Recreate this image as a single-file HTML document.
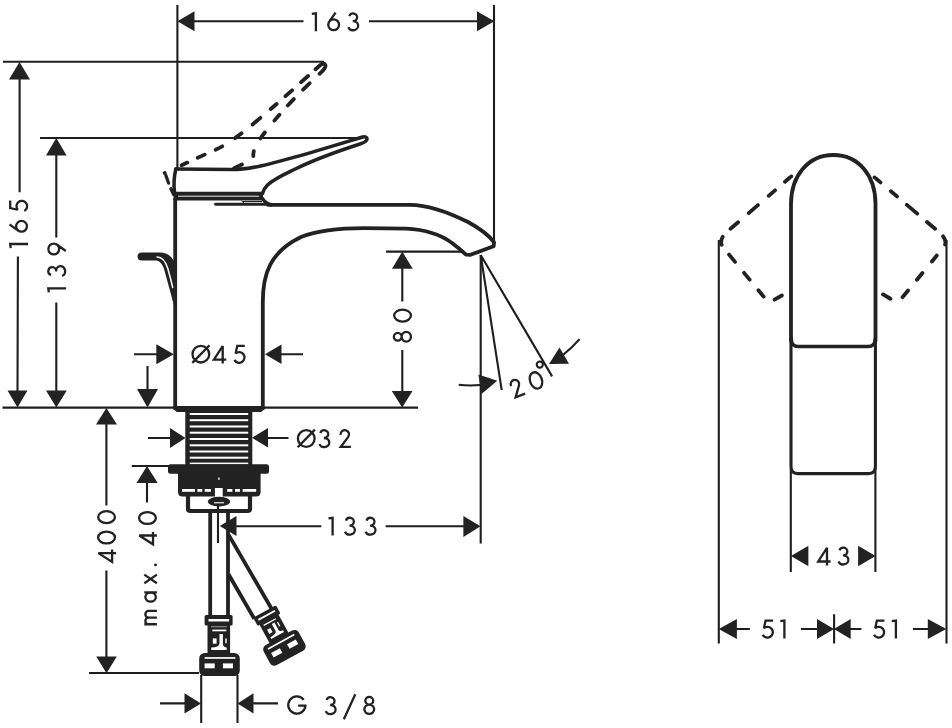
<!DOCTYPE html>
<html><head><meta charset="utf-8"><title>drawing</title>
<style>
html,body{margin:0;padding:0;background:#fff;overflow:hidden;}
svg{display:block;}
.t{stroke:#1e1e1e;stroke-width:2.1;fill:none;}
.h{stroke:#222;stroke-width:3.8;fill:none;stroke-linejoin:round;stroke-linecap:round;}
.m{stroke:#222;stroke-width:3.5;fill:none;stroke-linejoin:round;stroke-linecap:round;}
.d{stroke:#222;stroke-width:3.8;fill:none;stroke-linecap:round;stroke-linejoin:round;stroke-dasharray:9.8 10.7;}
.a{fill:#222;stroke:none;}
.k{fill:#222;stroke:none;}
.w{fill:#fff;stroke:none;}
.x path{stroke:#222;stroke-width:2.3;fill:none;stroke-linejoin:miter;stroke-miterlimit:3;stroke-linecap:butt;}
</style></head><body>
<svg width="952" height="728" viewBox="0 0 952 728">
<rect width="952" height="728" fill="#fff"/>

<!-- thin dimension lines -->
<g class="t">
<path d="M177.4 5V168M494 5V241M194 21.3H303.5M369 21.3H477.5"/>
<path d="M3 61.8H324M19.6 79L19.6 192.3M17.9 256.5L17.5 391"/>
<path d="M40 138H363M56.3 155V237.6M56.3 302.5V391"/>
<path d="M2.5 407.6H175M264 407.6H418"/>
<path d="M134 354.2H157M281 354.2H303"/>
<path d="M147.5 366V389.5"/>
<path d="M148 438H171M267 438H288.5"/>
<path d="M131.7 466H169M147 483V502.5"/>
<path d="M106.4 424V505.6M106.4 570.5V657M89 673H199"/>
<path d="M236 526.3H321.3M385.6 526.3H464M480.7 255V543.5M218 503.5V543"/>
<path d="M201.2 675V723M237.5 675V723M160 703.4H185M253 703.4H278"/>
<path d="M386 251.6H464M402.3 268V301.5M402.3 350V391.5"/>
<path d="M480.7 255L501.7 390.1M480.7 255L552.1 376.4"/>
<path d="M458.7 384.8Q470 386 480 385"/>
<path d="M563 355Q573 347 579.5 339.2"/>
<circle cx="539.8" cy="364.6" r="3.1"/>
<path d="M718.8 240V643.4M946.5 240V643.4M790.8 468V572M875.4 468V572M834.1 614.3V643.4"/>
<path d="M736 629H749.9M800.9 629H817.5M850 629H861.4M912.9 629H928"/>
</g>

<!-- arrows -->
<g class="a">
<path d="M177.5 21.3L194.5 11.3V31.3Z"/>
<path d="M494.3 21.3L477 11.3V31.3Z"/>
<path d="M19.5 62L9 79.5H30Z"/>
<path d="M17.5 407.5L7.5 390.5H27.5Z"/>
<path d="M56.3 138L46 155.5H66.6Z"/>
<path d="M56.3 407.5L46 390.5H66.8Z"/>
<path d="M173.8 354.2L156.3 344.2V364.2Z"/>
<path d="M265 354.2L281.5 344.4V364Z"/>
<path d="M147.5 407.5L137 389H158Z"/>
<path d="M185.5 438L170 428V448Z"/>
<path d="M252 437.8L268 428V447.5Z"/>
<path d="M147 466L136.5 483H157.7Z"/>
<path d="M106.4 408L96 424.5H117Z"/>
<path d="M106.5 673.2L96.3 656.5H116.8Z"/>
<path d="M219.7 526L236.5 516V536Z"/>
<path d="M480.5 526.3L463.4 516V537Z"/>
<path d="M201 703.4L184.5 693.3V713.4Z"/>
<path d="M237.5 703.4L253.5 693.3V713.4Z"/>
<path d="M402.3 251.6L392 268.8H412.7Z"/>
<path d="M402.2 407.5L391.8 391H412.5Z"/>
<path d="M497.3 380.7L478.4 374.4L481.5 394Z"/>
<path d="M549 364.1L559.5 347.6L569 363.8Z"/>
<path d="M790.9 556L808.4 545.7V566.3Z"/>
<path d="M875.6 556L858.1 545.7V566.3Z"/>
<path d="M718.7 629L736.9 619V639Z"/>
<path d="M834 629L817 619V639Z"/>
<path d="M834 629L850.7 619V639Z"/>
<path d="M946.3 629L927.8 619V639Z"/>
</g>

<!-- text (stroked glyphs) -->
<g class="x">
<g transform="translate(311.7 31.2)">
<path transform="translate(0.00 0)" d="M0.1,-17.3L4.2,-17.8V0"/>
<path transform="translate(15.50 0)" d="M8.4,-18.5L2.0,-9.6M11.85,-6.45A5.4,5.4 0 1 1 1.05,-6.45A5.4,5.4 0 1 1 11.85,-6.45Z"/>
<path transform="translate(35.60 0)" d="M2.0,-15.0A4.0,3.9 0 1 1 5.5,-10.0A5.1,4.5 0 1 1 1.0,-3.9"/>
</g>
<g transform="translate(28.0 248.2) rotate(-90)">
<path transform="translate(0.00 0)" d="M0.1,-17.3L4.2,-17.8V0"/>
<path transform="translate(15.45 0)" d="M8.4,-18.5L2.0,-9.6M11.85,-6.45A5.4,5.4 0 1 1 1.05,-6.45A5.4,5.4 0 1 1 11.85,-6.45Z"/>
<path transform="translate(35.55 0)" d="M12.1,-17.8H4.6L2.9,-10.2A5.35,5.35 0 1 1 1.7,-3.7"/>
</g>
<g transform="translate(66.1 292.5) rotate(-90)">
<path transform="translate(0.00 0)" d="M0.1,-17.3L4.2,-17.8V0"/>
<path transform="translate(15.55 0)" d="M2.0,-15.0A4.0,3.9 0 1 1 5.5,-10.0A5.1,4.5 0 1 1 1.0,-3.9"/>
<path transform="translate(37.05 0)" d="M4.5,-0.3L10.9,-9.2M11.85,-12.35A5.4,5.4 0 1 1 1.05,-12.35A5.4,5.4 0 1 1 11.85,-12.35Z"/>
</g>
<g transform="translate(191.4 363.6)">
<path transform="translate(0.00 0)" d="M17.8,-9.45A8.35,8.35 0 1 1 1.1,-9.45A8.35,8.35 0 1 1 17.8,-9.45ZM0.9,-0.7L18.1,-18.4"/>
<path transform="translate(21.30 0)" d="M10.0,0V-17.6L1.2,-3.9H13.6"/>
<path transform="translate(41.30 0)" d="M12.1,-17.8H4.6L2.9,-10.2A5.35,5.35 0 1 1 1.7,-3.7"/>
</g>
<g transform="translate(296.8 448.0)">
<path transform="translate(0.00 0)" d="M17.8,-9.45A8.35,8.35 0 1 1 1.1,-9.45A8.35,8.35 0 1 1 17.8,-9.45ZM0.9,-0.7L18.1,-18.4"/>
<path transform="translate(21.60 0)" d="M2.0,-15.0A4.0,3.9 0 1 1 5.5,-10.0A5.1,4.5 0 1 1 1.0,-3.9"/>
<path transform="translate(42.00 0)" d="M1.8,-13.0A4.25,4.25 0 1 1 9.3,-10.9L1.9,-1.05H12.1"/>
</g>
<g transform="translate(412.0 342.7) rotate(-90)">
<path transform="translate(0.00 0)" d="M9.9,-14.25A3.95,3.9 0 1 1 2.0,-14.25A3.95,3.9 0 1 1 9.9,-14.25ZM10.85,-5.7A4.9,4.65 0 1 1 1.05,-5.7A4.9,4.65 0 1 1 10.85,-5.7Z"/>
<path transform="translate(20.10 0)" d="M12.95,-9.45A5.95,8.4 0 1 1 1.05,-9.45A5.95,8.4 0 1 1 12.95,-9.45Z"/>
</g>
<g transform="translate(116.0 563.1) rotate(-90)">
<path transform="translate(0.00 0)" d="M10.0,0V-17.6L1.2,-3.9H13.6"/>
<path transform="translate(18.60 0)" d="M12.95,-9.45A5.95,8.4 0 1 1 1.05,-9.45A5.95,8.4 0 1 1 12.95,-9.45Z"/>
<path transform="translate(39.00 0)" d="M12.95,-9.45A5.95,8.4 0 1 1 1.05,-9.45A5.95,8.4 0 1 1 12.95,-9.45Z"/>
</g>
<g transform="translate(156.9 625.3) rotate(-90)">
<path transform="translate(0.00 0)" d="M1.05,0V-12.6M1.05,-8.2A3.325,3.35 0 0 1 7.7,-8.2V0M7.7,-8.2A3.325,3.35 0 0 1 14.35,-8.2V0"/>
<path transform="translate(22.50 0)" d="M10.45,0V-12.6M10.3,-6.3A4.6,5.25 0 1 1 1.1,-6.3A4.6,5.25 0 1 1 10.3,-6.3Z"/>
<path transform="translate(41.20 0)" d="M0.9,0L9.5,-12.6M0.9,-12.6L9.5,0"/>
<circle cx="60.40" cy="-1.4" r="1.45" fill="#222" stroke="none"/>
<path transform="translate(79.80 0)" d="M10.0,0V-17.6L1.2,-3.9H13.6"/>
<path transform="translate(100.30 0)" d="M12.95,-9.45A5.95,8.4 0 1 1 1.05,-9.45A5.95,8.4 0 1 1 12.95,-9.45Z"/>
</g>
<g transform="translate(328.4 535.6)">
<path transform="translate(0.00 0)" d="M0.1,-17.3L4.2,-17.8V0"/>
<path transform="translate(15.60 0)" d="M2.0,-15.0A4.0,3.9 0 1 1 5.5,-10.0A5.1,4.5 0 1 1 1.0,-3.9"/>
<path transform="translate(36.20 0)" d="M2.0,-15.0A4.0,3.9 0 1 1 5.5,-10.0A5.1,4.5 0 1 1 1.0,-3.9"/>
</g>
<g transform="translate(287.2 715.0)">
<path transform="translate(0.00 0)" d="M16.5,-15.2A8.6,8.6 0 1 0 18.25,-9.4H11"/>
<path transform="translate(37.50 0)" d="M2.0,-15.0A4.0,3.9 0 1 1 5.5,-10.0A5.1,4.5 0 1 1 1.0,-3.9"/>
<path transform="translate(56.00 0)" d="M0.6,4.2L12.1,-20.8"/>
<path transform="translate(76.10 0)" d="M9.9,-14.25A3.95,3.9 0 1 1 2.0,-14.25A3.95,3.9 0 1 1 9.9,-14.25ZM10.85,-5.7A4.9,4.65 0 1 1 1.05,-5.7A4.9,4.65 0 1 1 10.85,-5.7Z"/>
</g>
<g transform="translate(514.2 398.9) rotate(-21)">
<path transform="translate(0.00 0)" d="M1.8,-13.0A4.25,4.25 0 1 1 9.3,-10.9L1.9,-1.05H12.1"/>
<path transform="translate(19.95 0)" d="M12.95,-9.45A5.95,8.4 0 1 1 1.05,-9.45A5.95,8.4 0 1 1 12.95,-9.45Z"/>
</g>
<g transform="translate(817.0 565.4)">
<path transform="translate(0.00 0)" d="M10.0,0V-17.6L1.2,-3.9H13.6"/>
<path transform="translate(20.50 0)" d="M2.0,-15.0A4.0,3.9 0 1 1 5.5,-10.0A5.1,4.5 0 1 1 1.0,-3.9"/>
</g>
<g transform="translate(761.0 638.4)">
<path transform="translate(0.00 0)" d="M12.1,-17.8H4.6L2.9,-10.2A5.35,5.35 0 1 1 1.7,-3.7"/>
<path transform="translate(19.20 0)" d="M0.1,-17.3L4.2,-17.8V0"/>
</g>
<g transform="translate(872.3 638.4)">
<path transform="translate(0.00 0)" d="M12.1,-17.8H4.6L2.9,-10.2A5.35,5.35 0 1 1 1.7,-3.7"/>
<path transform="translate(19.40 0)" d="M0.1,-17.3L4.2,-17.8V0"/>
</g>
</g>

<!-- faucet side view -->
<g id="side">
<path class="h" d="M175.2 199V408.4H262.8V302C262.8 274 270 252 301 237C318 230.5 340 228.3 364 228.2L406 228.6C425 229.5 440 234 452 243Q460 249 466 254.6L470.5 254.8L493.6 246.2L494.1 242.3C488 234 478 227.5 468 222C446 211 426 205 410 204.8H268"/>
<path d="M215.6 204.3H269" stroke="#222" stroke-width="2.9" stroke-linecap="round" fill="none"/>
<path class="k" d="M173.3 406H264.7V408.4L261.3 412H176.7L173.3 408.4Z"/>
<path class="t" d="M241.4 200.8L244.6 203.6M243 201.5H262" style="stroke-width:1"/>
<path class="m" d="M175.8 169L232 169.5C250 169.5 270 164 293.7 157.4C315 151.5 340 143.8 362.5 137Q367.4 136.2 367 139.4Q366.3 142 360 144C340 150.5 312 160.5 293.7 169.8C284 174.5 274 179 267.5 185Q263.5 189 262.5 193.5"/>
<path class="m" d="M175.8 169Q173 181 174.6 193"/>
<path d="M173.6 196.1H263" stroke="#222" stroke-width="8.6" stroke-linecap="butt" fill="none"/>
<path d="M178 196.2H259" stroke="#fff" stroke-width="0.9" fill="none"/>
<path class="m" d="M262.5 198.5Q265 203 271 204.7"/>
<!-- raised handle (dashed) -->
<g transform="rotate(-25 179 196)">
<path class="d" d="M175.8 169L232 169.5C250 169.5 270 164 293.7 157.4C315 151.5 340 143.8 362.5 137Q367.4 136.2 367 139.4Q366.3 142 360 144C340 150.5 312 160.5 293.7 169.8C284 174.5 274 179 267.5 185Q263.5 189 262.5 193.5L262.5 194H230" style="stroke-dasharray:0 18.6 6.2 11.5 7.7 12.0 7.5 15.3 7.9 14.1 10.4 13.6 7.7 11.8 8.7 12.1 9.2 10.1 23.4 13.6 9.2 13.1 8.7 12.5 7.7 15.3 7.5 14.3 5.0 16.0 8.7 999"/>
<path class="d" d="M175.8 171.5L175 180M174.7 186L174.7 192.5" style="stroke-dasharray:none;stroke-width:3.2"/>
</g>
<!-- pop-up lever -->
<path class="k" d="M141.6 252.5H159C166.5 252 171.5 256 174.5 262V307.5C172.5 300 168.5 285 166.5 278C164.3 270 163 261.3 156 260.6H141.6A4.05 4.05 0 0 1 141.6 252.5Z"/>
<path d="M157 256.9C163.3 256.8 165.8 262 167.8 268.5C169.5 274.5 171.3 281.5 172.7 287.5" stroke="#fff" stroke-width="1.5" stroke-linecap="round" fill="none"/>
</g>

<!-- below deck -->
<g id="below">
<rect class="k" x="185.3" y="408" width="67" height="57"/>
<g class="w"><rect x="189.7" y="413.0" width="58.5" height="2"/><rect x="189.7" y="419.2" width="58.5" height="2"/><rect x="189.7" y="425.5" width="58.5" height="2"/><rect x="189.7" y="431.7" width="58.5" height="2"/><rect x="189.7" y="438.0" width="58.5" height="2"/><rect x="189.7" y="444.3" width="58.5" height="2"/><rect x="189.7" y="450.5" width="58.5" height="2"/><rect x="189.7" y="456.7" width="58.5" height="2"/><rect x="189.7" y="462.6" width="58.5" height="1.7"/></g>
<rect class="k" x="168" y="464.3" width="101" height="9.4" rx="2.5"/>
<path class="k" d="M178 473H260.6V492Q260.6 496.5 256 496.5H182.5Q178 496.5 178 492Z"/>
<g class="w">
<rect x="182" y="489" width="13" height="2.8"/><rect x="197.4" y="489" width="4.8" height="2.8"/>
<rect x="204.7" y="489" width="6.3" height="2.8"/><rect x="214.9" y="488" width="7.8" height="10"/>
<rect x="227.2" y="489" width="5.2" height="2.8"/><rect x="235" y="489" width="5" height="2.8"/>
<rect x="242.6" y="489" width="13.6" height="2.8"/>
<rect x="218.3" y="477.5" width="1.3" height="2.4"/>
</g>
<path d="M188 496V508.5Q188 511 190.5 511H247.5Q250 511 250 508.5V496" stroke="#222" stroke-width="4.2" fill="none"/>
<ellipse cx="219" cy="501.6" rx="11.2" ry="4.9" class="k"/>
<rect x="214" y="502.2" width="10" height="1.1" class="w"/>
<path d="M210.2 513V616M228 513V616" stroke="#222" stroke-width="3.8" fill="none"/>
<g id="conn">
<rect class="k" x="204.6" y="615" width="28" height="10.6" rx="1.5"/>
<rect class="w" x="208.5" y="619" width="20.6" height="2.5"/>
<rect class="k" x="207.5" y="625" width="22.6" height="28.5"/>
<rect x="211" y="626.3" width="15.8" height="0.9" fill="#aaa"/>
<rect class="w" x="212.3" y="629.6" width="14" height="1.7"/>
<path class="w" d="M219.5 634H222.9V644.3Q223.3 647.2 226.7 647.5V649.9H211.3V647.6Q219 647.4 219.5 643.5Z"/>
<rect class="w" x="212.8" y="638.4" width="3.8" height="5.3"/>
<rect class="w" x="225.3" y="638.4" width="1.4" height="4.8"/>
<rect class="k" x="199.2" y="653" width="40.6" height="23" rx="5.5"/>
<rect class="w" x="204.6" y="657.1" width="30.8" height="1.7"/>
<rect class="w" x="204.6" y="663.4" width="10.1" height="4.9"/>
<rect class="w" x="222.9" y="663.4" width="10.1" height="4.9"/>
</g>
<path d="M228.5 534.6L271.6 608.8M228.5 574.2L254.3 618.7" stroke="#222" stroke-width="3.8" fill="none"/>
<g transform="translate(265 612.3) rotate(-28.7)">
<rect class="k" x="-13" y="-1" width="26" height="9.6" rx="1.5"/>
<rect class="w" x="-9.5" y="2.5" width="19" height="1.9"/>
<rect class="k" x="-10.8" y="8" width="21.6" height="22"/>
<rect class="w" x="-7.5" y="10.2" width="14" height="1.4"/>
<path class="w" d="M0.3 13.6H3.4V22.2Q3.7 24.2 7.2 24.4V26.4H-7.2V24.5Q-0.2 24.3 0.3 21.5Z"/>
<rect class="w" x="-6.6" y="16.4" width="3.7" height="4.6"/>
<rect class="w" x="5.6" y="14.5" width="1.3" height="4.8"/>
<rect class="k" x="-20" y="29" width="40" height="23" rx="5"/>
<rect class="w" x="-15" y="32.8" width="30" height="1.7"/>
<rect class="w" x="-14.2" y="38.6" width="10" height="5.2"/>
<rect class="w" x="4" y="38.6" width="10" height="5.2"/>
</g>
</g>

<!-- front view -->
<g id="front">
<path class="h" d="M791 341V204C791 176 808 155 833.3 155C859 155 875.5 176 875.5 204V341" style="stroke-width:3.8"/>
<path class="m" d="M791.2 339Q791.5 346.6 798.5 346.6H868Q874.8 346.6 875.2 339"/>
<path class="m" d="M791 341V466.5Q791 473.6 798 473.6H868.5Q875.4 473.6 875.4 466.5V341" style="stroke-width:3.1"/>
<path class="d" d="M791.3 176.3L727.3 231.6Q717.3 240.3 723.6 248L763.5 296.5Q768.8 303 775 299.4L786 293.1" style="stroke-dasharray:0 1.9 6.4 13.2 8.4 14.2 12.2 14.0 10.0 11.2 8.4 12.2 9.4 14.2 8.8 13.8 8.2 12.4 8.4 999"/>
<path class="d" d="M874.5 177.3L939.3 232.4Q949.3 240.8 943 248L903.1 296.5Q897.8 303 891.6 299.4L880.6 293.1" style="stroke-dasharray:0 1.9 6.0 13.6 8.0 13.0 13.6 12.8 10.6 11.0 8.8 13.8 7.6 15.0 8.6 14.0 8.6 13.6 8.6 999"/>
</g>
</svg>
</body></html>
